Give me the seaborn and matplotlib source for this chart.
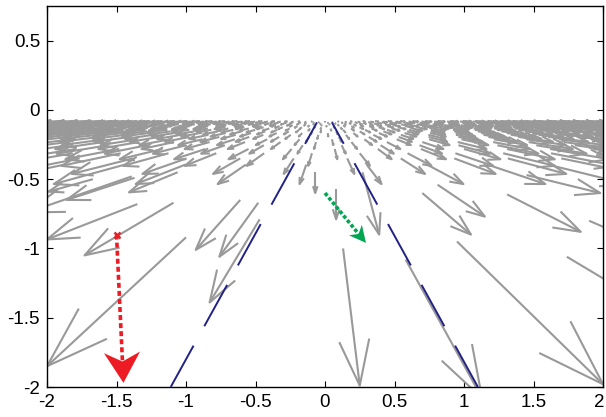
import numpy as np
import pandas as pd
import matplotlib
matplotlib.use("Agg")
import matplotlib.pyplot as plt
import seaborn as sns
from matplotlib.collections import LineCollection
from matplotlib.transforms import ScaledTranslation

# ---------------- data ----------------
# sparse (large) flow vectors below the dense band: tail x, tail y, u, v
arrow_x = [-1.00, -1.09, -0.61, -0.48, -0.47, -1.67, -1.37, -1.06, -1.39, -1.35,
           0.95, 0.13, 0.58, 1.74, 0.70, 0.27, 0.08, -0.07,
           0.81, 1.31, 1.45, 1.90]
arrow_y = [-0.92, -0.67, -0.65, -0.67, -0.79, -0.50, -0.49, -0.45, -0.48, -0.68,
           -0.95, -1.00, -1.08, -1.06, -0.60, -0.45, -0.57, -0.45,
           -0.54, -0.61, -0.47, -0.80]
arrow_u = [-1.00, -0.64, -0.32, -0.28, -0.36, -0.32, -0.49, -0.35, -0.75, -0.65,
           1.05, 0.12, 0.55, 0.60, 0.35, 0.12, 0.00, 0.00,
           0.34, 0.53, 0.53, 0.30]
arrow_v = [-0.93, -0.38, -0.36, -0.39, -0.60, -0.09, -0.16, -0.145, -0.26, -0.255,
           -1.03, -0.99, -1.00, -0.36, -0.30, -0.45, -0.22, -0.15,
           -0.23, -0.27, -0.13, -0.13]

# dense band of small vectors near the horizon (rows of ground points)
band_row_y = [-0.080, -0.084, -0.088, -0.093, -0.098, -0.104, -0.110, -0.117,
              -0.125, -0.134, -0.144, -0.155, -0.167, -0.180, -0.195, -0.212,
              -0.232, -0.255, -0.282, -0.313, -0.350, -0.395]
band_row_gain = [0.064, 0.067, 0.071, 0.075, 0.080, 0.086, 0.092, 0.099,
                 0.107, 0.116, 0.126, 0.138, 0.150, 0.164, 0.180, 0.197,
                 0.217, 0.238, 0.262, 0.290, 0.320, 0.355]
band_row_step = [0.090, 0.092, 0.097, 0.102, 0.108, 0.114, 0.121, 0.129,
                 0.138, 0.147, 0.158, 0.170, 0.184, 0.198, 0.215, 0.233,
                 0.255, 0.280, 0.310, 0.344, 0.385, 0.435]
band_row_shift = [0.00, 0.05, 0.02, 0.07, 0.03, 0.09, 0.01, 0.06,
                  0.11, 0.04, 0.13, 0.08, 0.02, 0.15, 0.10, 0.05,
                  0.19, 0.12, 0.07, 0.25, 0.16, 0.30]

# highlighted vectors
red_x = [-1.50, -1.45]
red_y = [-0.90, -1.97]
green_x = [0.00, 0.295]
green_y = [-0.60, -0.96]

# dashed boundary lines
left_line_x = [-1.11, -0.058]
left_line_y = [-2.00, -0.09]
right_line_x = [1.10, 0.05]
right_line_y = [-2.00, -0.09]

x_ticks = [-2, -1.5, -1, -0.5, 0, 0.5, 1, 1.5, 2]
x_labels = ["-2", "-1.5", "-1", "-0.5", "0", "0.5", "1", "1.5", "2"]
y_ticks = [-2, -1.5, -1, -0.5, 0, 0.5]
y_labels = ["-2", "-1.5", "-1", "-0.5", "0", "0.5"]

# ---------------- style ----------------
sns.set_theme(style="ticks")
plt.rcParams["font.family"] = ["Liberation Sans", "DejaVu Sans"]
plt.rcParams["lines.scale_dashes"] = False

GRAY = (0.6, 0.6, 0.6)
NAVY = (0.13, 0.13, 0.53)
RED = "#ed1c24"
GREEN = "#00a651"

fig = plt.figure(figsize=(6.06, 4.17), dpi=100)
ax = fig.add_axes([47 / 606, 1 - 387 / 417, 556 / 606, 381 / 417])


def matlab_arrows(x, y, u, v, alpha=0.33, beta=0.33):
    segs = []
    for xi, yi, ui, vi in zip(x, y, u, v):
        tx, ty = xi + ui, yi + vi
        segs.append([(xi, yi), (tx, ty)])
        b1 = (tx - alpha * (ui + beta * vi), ty - alpha * (vi - beta * ui))
        b2 = (tx - alpha * (ui - beta * vi), ty - alpha * (vi + beta * ui))
        segs.append([b1, (tx, ty), b2])
    return segs


# band vectors: ground points of each row, radial flow with per-row gain
bx, by, bu, bv = [], [], [], []
for ry, g, st, s in zip(band_row_y, band_row_gain, band_row_step, band_row_shift):
    k0 = int(np.floor((-2.1 - s) / st))
    k1 = int(np.ceil((2.05 - s) / st))
    for k in range(k0, k1 + 1):
        xx = s + k * st
        if xx < -2.1 or xx > 2.05:
            continue
        bx.append(xx)
        by.append(ry)
        bu.append(g * xx)
        bv.append(g * ry)

segs = matlab_arrows(bx, by, bu, bv) + matlab_arrows(arrow_x, arrow_y, arrow_u, arrow_v)
lc = LineCollection(segs, colors=[GRAY], linewidths=1.5, capstyle="butt",
                    joinstyle="round", zorder=2)
ax.add_collection(lc)

# dashed navy lines
lines_df = pd.DataFrame({
    "x": left_line_x + right_line_x,
    "y": left_line_y + right_line_y,
    "side": ["left"] * 2 + ["right"] * 2,
})
for side, sub in lines_df.groupby("side"):
    sns.lineplot(data=sub, x="x", y="y", ax=ax, color=NAVY, lw=1.4, sort=False,
                 estimator=None, zorder=3, legend=False,
                 linestyle=(0, (34, 16)))


def fancy_head(ax, x0, y0, x1, y1, length, width, notch, color):
    d = np.array([x1 - x0, y1 - y0], dtype=float)
    L = np.hypot(*d)
    d /= L
    n = np.array([-d[1], d[0]])
    tip = np.array([x1, y1])
    back = tip - d * length
    p1 = back + n * width / 2
    p2 = back - n * width / 2
    pn = tip - d * length * (1 - notch)
    ax.fill([tip[0], p1[0], pn[0], p2[0]], [tip[1], p1[1], pn[1], p2[1]],
            color=color, lw=0, zorder=5)
    return pn


# red vector
end = fancy_head(ax, red_x[0], red_y[0], red_x[1], red_y[1], 0.22, 0.26, 0.3, RED)
ax.plot([red_x[0], end[0]], [red_y[0], end[1]], color=RED, lw=2.6,
        linestyle=(0, (3.6, 2.2)), solid_capstyle="butt", zorder=4)
ax.plot([red_x[0]], [red_y[0]], marker="x", color=RED, ms=5, mew=1.8, zorder=5)

# green vector
end = fancy_head(ax, green_x[0], green_y[0], green_x[1], green_y[1], 0.12, 0.12, 0.3, GREEN)
ax.plot([green_x[0], end[0]], [green_y[0], end[1]], color=GREEN, lw=2.6,
        linestyle=(0, (2.6, 1.6)), zorder=4)

ax.set_xlim(-2, 2)
ax.set_ylim(-2, 0.75)
ax.set_xticks(x_ticks)
ax.set_xticklabels(x_labels)
ax.set_yticks(y_ticks)
ax.set_yticklabels(y_labels)
ax.set_xlabel("")
ax.set_ylabel("")
ax.tick_params(direction="in", length=4, width=0.8, top=True, right=True,
               labelsize=13.5, colors="black", pad=5)
# keep the last x label inside the canvas, as in the reference
last = ax.get_xticklabels()[-1]
last.set_transform(last.get_transform() + ScaledTranslation(-4 / 100, 0, fig.dpi_scale_trans))
for sp in ax.spines.values():
    sp.set_visible(True)
    sp.set_color("black")
    sp.set_linewidth(1.0)

fig.savefig("out.png", dpi=100)
